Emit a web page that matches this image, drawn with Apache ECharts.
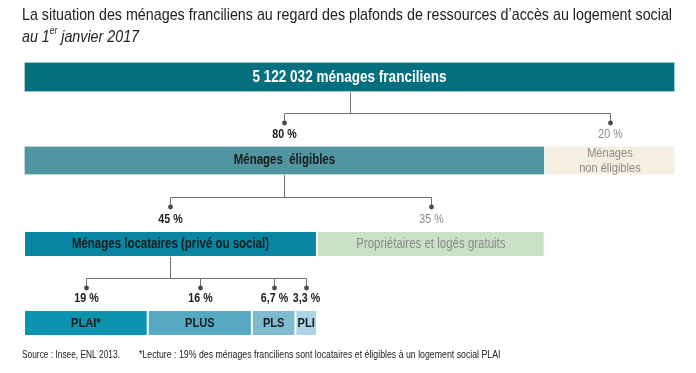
<!DOCTYPE html>
<html><head><meta charset="utf-8">
<script src="https://cdn.jsdelivr.net/npm/echarts@6/dist/echarts.min.js"></script>
<style>html,body{margin:0;padding:0;background:#fff}#c{width:696px;height:373px}</style>
</head><body><div id="c"></div>
<script>
// ---- data ----
const row1Labels = ['5 122 032 ménages franciliens'];
const row1Values = [100];
const row2Labels = ['Ménages  éligibles', 'Ménages\nnon éligibles'];
const row2Values = [80, 20];
const row3Labels = ['Ménages locataires (privé ou social)', 'Propriétaires et logés gratuits'];
const row3Values = [45, 35];
const row4Labels = ['PLAI*', 'PLUS', 'PLS', 'PLI'];
const row4Values = [19, 16, 6.7, 3.3];
const titleLine1 = 'La situation des ménages franciliens au regard des plafonds de ressources d\u2019accès au logement social';
const sourceText = 'Source : Insee, ENL 2013.';
const noteText = '*Lecture : 19% des ménages franciliens sont locataires et éligibles à un logement social PLAI';

// ---- styles ----
const FONT = '"Liberation Sans", Arial, sans-serif';
const NARROW = 0.82; // horizontal squeeze to imitate a condensed face
const DARK = '#1b1b1b', GREY = '#8a8a8a';
const rows = [
  {labels: row1Labels, values: row1Values, top: 62, h: 30,
   colors: ['#04707f'], txt: [{fill:'#fff', w:'bold', s:16.5}]},
  {labels: row2Labels, values: row2Values, top: 146, h: 29,
   colors: ['#5195a0', '#f4efe0'], txt: [{fill:DARK, w:'bold', s:14}, {fill:GREY, w:'normal', s:13.5, lh:15}]},
  {labels: row3Labels, values: row3Values, top: 231, h: 26,
   colors: ['#0886a3', '#c9e2c6'], txt: [{fill:DARK, w:'bold', s:14}, {fill:GREY, w:'normal', s:14}]},
  {labels: row4Labels, values: row4Values, top: 310, h: 26,
   colors: ['#0a94b0', '#56a9c1', '#7ebbd0', '#aad3e3'], txt: [{fill:DARK, w:'bold', s:13.5},{fill:DARK, w:'bold', s:13.5},{fill:DARK, w:'bold', s:13.5},{fill:DARK, w:'bold', s:13.5}]}
];

const grids = [], xAxes = [], yAxes = [], series = [];
rows.forEach((r, i) => {
  grids.push({left: 24, right: 21, top: r.top, height: r.h});
  xAxes.push({type:'value', gridIndex:i, min:0, max:100, show:false});
  yAxes.push({type:'category', gridIndex:i, data:['r'], show:false});
  r.values.forEach((v, j) => {
    series.push({
      type:'bar', xAxisIndex:i, yAxisIndex:i, stack:'s'+i, barWidth:'100%', silent:true,
      data:[v],
      itemStyle:{color:r.colors[j], borderColor:'#fff', borderWidth: i >= 2 ? 1 : 0.6},
      label:{show:false}
    });
  });
});

const chart = echarts.init(document.getElementById('c'), null, {renderer:'canvas'});
chart.setOption({
  animation:false,
  backgroundColor:'#fff',
  grid: grids, xAxis: xAxes, yAxis: yAxes, series: series
});

function fmtPct(v){ return String(v).replace('.', ',') + ' %'; }
function segCenters(i){
  const vals = rows[i].values; let acc = 0; const out = [];
  vals.forEach(v => { out.push(chart.convertToPixel({xAxisIndex:i, yAxisIndex:i}, [acc + v/2, 0])); acc += v; });
  return out;
}
const g = [];
// bar labels, positioned through the axes
rows.forEach((r, i) => {
  const cs = segCenters(i);
  r.labels.forEach((t, j) => {
    const st = r.txt[j];
    g.push({type:'text', x:cs[j][0], y:cs[j][1], scaleX:NARROW, silent:true, z:10,
      style:{text:t, align:'center', verticalAlign:'middle', font: st.w + ' ' + st.s + 'px ' + FONT,
        fill:st.fill, lineHeight: st.lh || st.s * 1.2}});
  });
});
// connectors
const LINE = {stroke:'#707070', lineWidth:1};
const links = [[0,0,1],[1,0,2],[2,0,3]];
links.forEach(([p, ps, c]) => {
  const pc = segCenters(p)[ps][0];
  const cc = segCenters(c).map(a => a[0]);
  const pBottom = rows[p].top + rows[p].h;
  const cTop = rows[c].top;
  const gap = cTop - pBottom;
  const yH = Math.round(pBottom + gap*0.39) + 0.5;
  const yD = Math.round(pBottom + gap*0.58);
  const yL = pBottom + gap*0.79;
  const px = Math.round(pc) + 0.5;
  g.push({type:'line', shape:{x1:px, y1:pBottom, x2:px, y2:yH}, style:LINE, silent:true});
  const xs = cc.map(x => Math.round(x) + 0.5);
  g.push({type:'line', shape:{x1:xs[0], y1:yH, x2:xs[xs.length-1], y2:yH}, style:LINE, silent:true});
  xs.forEach((x, k) => {
    g.push({type:'line', shape:{x1:x, y1:yH, x2:x, y2:yD}, style:LINE, silent:true});
    g.push({type:'circle', shape:{cx:x, cy:yD, r:2.4}, style:{fill:'#4a4a4a'}, silent:true});
    const main = (c === 3 || k === 0);
    g.push({type:'text', x:x, y:yL, scaleX:NARROW, silent:true, style:{text:fmtPct(rows[c].values[k]),
      align:'center', verticalAlign:'middle', font: (main ? 'bold' : 'normal') + ' 13px ' + FONT, fill: main ? DARK : GREY}});
  });
});
// title
const cv = document.createElement('canvas').getContext('2d');
cv.font = 'normal 17px ' + FONT;
const titleScale = 650 / cv.measureText(titleLine1).width;
g.push({type:'text', x:22, y:15, scaleX:titleScale, silent:true, style:{text:titleLine1, verticalAlign:'middle', font:'normal 17px ' + FONT, fill:'#222'}});
g.push({type:'text', x:22, y:36, scaleX:titleScale, silent:true, style:{
  text:'{a|au 1}{s|er}{a| janvier 2017}', verticalAlign:'middle',
  rich:{a:{font:'italic 17px ' + FONT, fill:'#222', verticalAlign:'bottom', lineHeight:20},
        s:{font:'italic 10px ' + FONT, fill:'#222', verticalAlign:'top', lineHeight:20, padding:[0,0,8,0]}}}});
// footer
g.push({type:'text', x:22, y:355, scaleX:NARROW, silent:true, style:{text:sourceText, verticalAlign:'middle', font:'10.2px ' + FONT, fill:'#222'}});
g.push({type:'text', x:139, y:355, scaleX:NARROW, silent:true, style:{text:noteText, verticalAlign:'middle', font:'10.7px ' + FONT, fill:'#222'}});
chart.setOption({graphic: g});
</script></body></html>
